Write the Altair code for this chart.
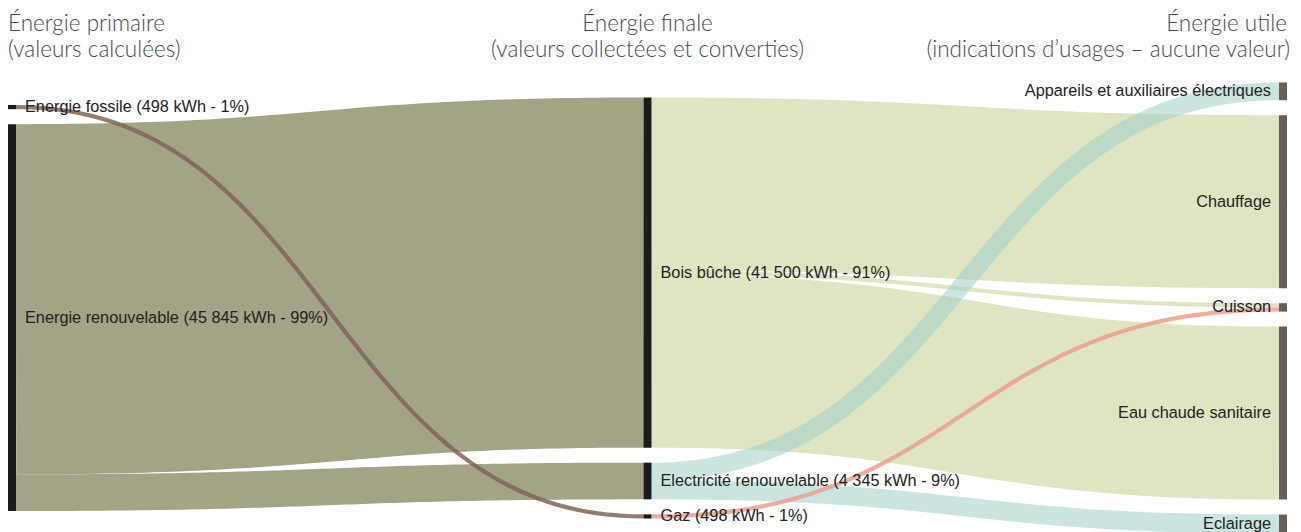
import altair as alt
import pandas as pd
import numpy as np

# ---------------- data ----------------
left_nodes = ["Energie fossile", "Energie renouvelable"]
mid_nodes = ["Bois bûche", "Electricité renouvelable", "Gaz"]
right_nodes = ["Appareils et auxiliaires électriques", "Chauffage", "Cuisson",
               "Eau chaude sanitaire", "Eclairage"]

left_labels = ["Energie fossile (498 kWh - 1%)", "Energie renouvelable (45 845 kWh - 99%)"]
mid_labels = ["Bois bûche (41 500 kWh - 91%)", "Electricité renouvelable (4 345 kWh - 9%)",
              "Gaz (498 kWh - 1%)"]
right_labels = right_nodes

link_sources = ["Energie renouvelable", "Energie renouvelable", "Energie fossile",
                "Bois bûche", "Bois bûche", "Bois bûche",
                "Electricité renouvelable", "Electricité renouvelable", "Gaz"]
link_targets = ["Bois bûche", "Electricité renouvelable", "Gaz",
                "Chauffage", "Cuisson", "Eau chaude sanitaire",
                "Appareils et auxiliaires électriques", "Eclairage", "Cuisson"]
link_values = [41500, 4345, 498, 20500, 500, 20500, 2100, 2245, 498]
link_kind = ["olive", "olive", "fossil", "bois", "bois", "bois", "elec", "elec", "gaz"]

headers_line1 = ["Énergie primaire", "Énergie finale", "Énergie utile"]
headers_line2 = ["(valeurs calculées)", "(valeurs collectées et converties)",
                 "(indications d’usages – aucune valeur)"]

# ---------------- layout ----------------
W = 1279
H = 524
K = 118.5               # kWh per pixel
D = H * K
NODE_W = 8
stage_px = (W - NODE_W) / 2
nw = NODE_W / stage_px
GAP = 15 * K
CENTER = 300 * K

columns = [left_nodes, mid_nodes, right_nodes]
stage_of = {}
for s, col in enumerate(columns):
    for n in col:
        stage_of[n] = s

val_in = {n: 0 for c in columns for n in c}
val_out = {n: 0 for c in columns for n in c}
for s_, t_, v in zip(link_sources, link_targets, link_values):
    val_out[s_] += v
    val_in[t_] += v
node_val = {n: max(val_in[n], val_out[n]) for n in val_in}

node_top = {}
for col in columns:
    total = sum(node_val[n] for n in col) + GAP * (len(col) - 1)
    y = CENTER - total / 2
    for n in col:
        node_top[n] = y
        y += node_val[n] + GAP

# link offsets
out_off = {n: 0 for n in node_val}
in_off = {n: 0 for n in node_val}
links_rows = []
for i, (s_, t_, v, kind) in enumerate(zip(link_sources, link_targets, link_values, link_kind)):
    y0 = node_top[s_] + out_off[s_] + v / 2
    out_off[s_] += v
    y1 = node_top[t_] + in_off[t_] + v / 2
    in_off[t_] += v
    x0 = stage_of[s_] + nw
    x1 = stage_of[t_]
    xm = (x0 + x1) / 2
    for t in np.linspace(0, 1, 80):
        a = (1 - t) ** 3
        b = 3 * (1 - t) ** 2 * t
        c = 3 * (1 - t) * t ** 2
        d = t ** 3
        links_rows.append({
            "link": i, "kind": kind, "value": v, "t": t,
            "x": a * x0 + b * xm + c * xm + d * x1,
            "y": a * y0 + b * y0 + c * y1 + d * y1,
        })
links_df = pd.DataFrame(links_rows)

node_rows = []
for s, (col, labels) in enumerate(zip(columns, [left_labels, mid_labels, right_labels])):
    for n, lab in zip(col, labels):
        node_rows.append({"name": n, "label": lab, "stage": s,
                          "x": s, "x2": s + nw,
                          "y": node_top[n], "y2": node_top[n] + node_val[n],
                          "yc": node_top[n] + node_val[n] / 2,
                          "lx": s + nw if s < 2 else s})
nodes_df = pd.DataFrame(node_rows)

xs = alt.Scale(domain=[0, 2 + nw], nice=False, zero=False)
ys = alt.Scale(domain=[0, D], reverse=True, nice=False, zero=False)

kind_colors = {
    "olive": ("#a3a385", 1.0),
    "bois": ("#dfe5c3", 1.0),
    "elec": ("#9fcfc6", 0.55),
    "gaz": ("#ec9f8f", 0.85),
    "fossil": ("#806557", 0.85),
}

layers = []
for kind in ["olive", "bois", "elec", "gaz", "fossil"]:
    colr, op = kind_colors[kind]
    lyr = alt.Chart(links_df[links_df["kind"] == kind]).mark_line(
        color=colr, opacity=op, strokeCap="butt", clip=False
    ).encode(
        x=alt.X("x:Q", scale=xs, axis=None),
        y=alt.Y("y:Q", scale=ys, axis=None),
        detail="link:N",
        order="t:Q",
        strokeWidth=alt.StrokeWidth("value:Q", scale=alt.Scale(domain=[0, D], range=[0, H]),
                                    legend=None),
    )
    layers.append(lyr)

node_layer = alt.Chart(nodes_df).mark_rect().encode(
    x=alt.X("x:Q", scale=xs, axis=None),
    x2="x2:Q",
    y=alt.Y("y:Q", scale=ys, axis=None),
    y2="y2:Q",
    color=alt.Color("stage:N", scale=alt.Scale(domain=[0, 1, 2],
                                               range=["#1b1b1b", "#1b1b1b", "#675e58"]),
                    legend=None),
)
layers.append(node_layer)

lab_font = "Liberation Sans"
lab_size = 16.3
lab_left = alt.Chart(nodes_df[nodes_df["stage"] < 2]).mark_text(
    align="left", baseline="middle", dx=9, font=lab_font, fontSize=lab_size, color="#222222"
).encode(x=alt.X("lx:Q", scale=xs, axis=None), y=alt.Y("yc:Q", scale=ys, axis=None),
         text="label:N")
lab_right = alt.Chart(nodes_df[nodes_df["stage"] == 2]).mark_text(
    align="right", baseline="middle", dx=-8, font=lab_font, fontSize=lab_size, color="#222222"
).encode(x=alt.X("lx:Q", scale=xs, axis=None), y=alt.Y("yc:Q", scale=ys, axis=None),
         text="label:N")
layers += [lab_left, lab_right]

hdr_df = pd.DataFrame({
    "l1": headers_line1, "l2": headers_line2,
    "hx": [0, 1 + nw / 2, 2 + nw],
    "pos": ["left", "center", "right"],
})
hdr_font = "Lato"
for pos, dx1, dx2 in [("left", 0, 0), ("center", 0, 0), ("right", 0, 3)]:
    sub = hdr_df[hdr_df["pos"] == pos]
    for fld, yy, dx in [("l1", 23, dx1), ("l2", 49, dx2)]:
        layers.append(alt.Chart(sub).mark_text(
            align=pos, baseline="alphabetic", font=hdr_font, fontWeight=300,
            fontSize=22.5, color="#4a4a4a", dx=dx
        ).encode(x=alt.X("hx:Q", scale=xs, axis=None), y=alt.value(yy), text=f"{fld}:N"))

chart = alt.layer(*layers).properties(
    width=W, height=H,
    autosize=alt.AutoSizeParams(type="none"),
    padding={"left": 0, "top": 0, "right": 6, "bottom": 0},
).configure_view(stroke=None)

chart.save("out.html", embed_options={"renderer": "svg", "actions": False})
